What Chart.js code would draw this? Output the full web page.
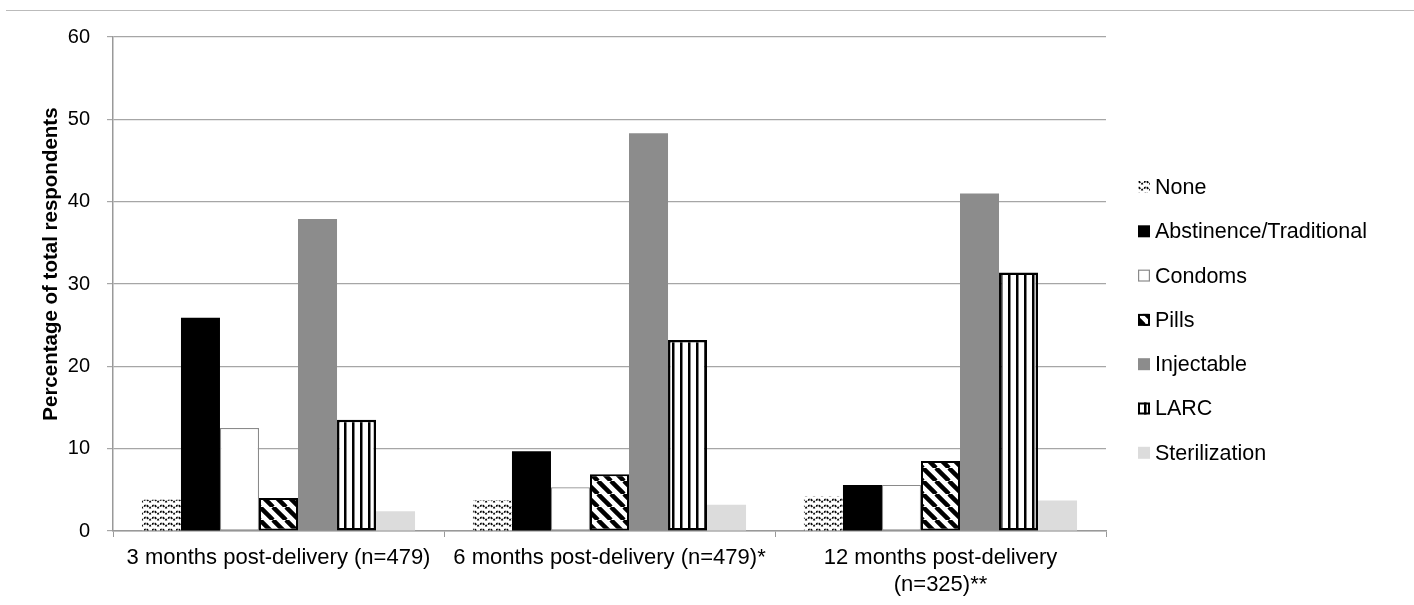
<!DOCTYPE html>
<html lang="en">
<head>
  <meta charset="UTF-8" />
  <title>Contraceptive method by time post-delivery</title>
  <script src="https://cdn.jsdelivr.net/npm/chart.js"></script>
  <style>
    html, body { margin: 0; padding: 0; background: #fff; }
    .frame {
      position: relative;
      width: 1414px;
      height: 605px;
    }
    .top-line {
      position: absolute;
      top: 10px; left: 6px; right: 0;
      border-top: 1px solid #bbb;
    }
    canvas { position: absolute; top: 0; left: 0; }
  </style>
</head>
<body>
  <div class="frame">
    <div class="top-line"></div>
    <canvas id="chart" width="1414" height="605"></canvas>
  </div>

  <script>
    const categories = [
      "3 months post-delivery (n=479)",
      "6 months post-delivery (n=479)*",
      ["12 months post-delivery", "(n=325)**"]
    ];
    const none = [3.8, 3.7, 4.2];
    const abstinence = [25.9, 9.7, 5.6];
    const condoms = [12.5, 5.3, 5.6];
    const pills = [4.0, 6.9, 8.5];
    const injectable = [37.9, 48.3, 41.0];
    const larc = [13.5, 23.2, 31.4];
    const sterilization = [2.4, 3.2, 3.7];
    const yTicks = [0, 10, 20, 30, 40, 50, 60];

    const FONT = "'Liberation Sans', Arial, sans-serif";

    function makePattern(w, h, draw) {
      const c = document.createElement("canvas");
      c.width = w; c.height = h;
      const ctx = c.getContext("2d");
      ctx.fillStyle = "#fff";
      ctx.fillRect(0, 0, w, h);
      draw(ctx, w, h);
      return ctx.createPattern(c, "repeat");
    }

    // dotted wavy lines
    const wavePattern = makePattern(8, 6, (ctx) => {
      ctx.strokeStyle = "#000";
      ctx.lineWidth = 1.8;
      ctx.setLineDash([2, 1]);
      ctx.beginPath();
      ctx.moveTo(0, 2.5);
      ctx.quadraticCurveTo(2, 0.2, 4, 2.5);
      ctx.quadraticCurveTo(6, 4.8, 8, 2.5);
      ctx.stroke();
    });

    // wide "\" stripes
    const diagPattern = makePattern(13, 13, (ctx, w, h) => {
      ctx.strokeStyle = "#000";
      ctx.lineWidth = 4.5;
      for (let k = -1; k <= 1; k++) {
        ctx.beginPath();
        ctx.moveTo(k * w, 0);
        ctx.lineTo(k * w + w, h);
        ctx.stroke();
      }
    });

    // vertical stripes
    const vertPattern = makePattern(8, 4, (ctx) => {
      ctx.fillStyle = "#000";
      ctx.fillRect(0, 0, 2.5, 4);
    });

    const yTickSet = new Set(yTicks);

    function ds(label, data, bg, border, bw) {
      return {
        label: label,
        data: data,
        backgroundColor: bg,
        borderColor: border || bg,
        borderWidth: bw || 0,
        borderSkipped: false
      };
    }

    // legend drawn by hand so the spacing matches the original
    const sideLegend = {
      id: "sideLegend",
      afterDraw(chart) {
        const ctx = chart.ctx;
        const x = 1138, y0 = 187, step = 44.3, box = 12;
        ctx.save();
        ctx.font = "21.5px " + FONT;
        ctx.textBaseline = "middle";
        chart.data.datasets.forEach((d, i) => {
          const y = y0 + i * step;
          ctx.fillStyle = d.backgroundColor;
          ctx.fillRect(x, y - box / 2, box, box);
          if (d.borderWidth) {
            ctx.lineWidth = Math.min(d.borderWidth, 2);
            ctx.strokeStyle = d.borderColor;
            const o = ctx.lineWidth / 2;
            ctx.strokeRect(x + o, y - box / 2 + o, box - 2 * o, box - 2 * o);
          }
          ctx.fillStyle = "#000";
          ctx.fillText(d.label, x + box + 5, y + 1);
        });
        ctx.restore();
      }
    };

    new Chart(document.getElementById("chart"), {
      type: "bar",
      data: {
        labels: categories,
        datasets: [
          ds("None", none, wavePattern),
          ds("Abstinence/Traditional", abstinence, "#000000"),
          ds("Condoms", condoms, "#ffffff", "#8a8a8a", 1.2),
          ds("Pills", pills, diagPattern, "#000000", 2),
          ds("Injectable", injectable, "#8c8c8c"),
          ds("LARC", larc, vertPattern, "#000000", 2.5),
          ds("Sterilization", sterilization, "#dcdcdc")
        ]
      },
      plugins: [sideLegend],
      options: {
        responsive: false,
        animation: false,
        layout: { padding: { top: 37, right: 308, bottom: 0, left: 0 } },
        datasets: {
          bar: { barPercentage: 1, categoryPercentage: 0.825 }
        },
        plugins: {
          tooltip: { enabled: false },
          legend: { display: false }
        },
        scales: {
          x: {
            offset: true,
            grid: {
              display: true,
              drawOnChartArea: false,
              drawTicks: true,
              tickLength: 6,
              color: "#999",
              offset: true
            },
            border: { color: "#999", width: 1.5 },
            ticks: {
              font: { family: FONT, size: 22 },
              color: "#000",
              padding: 8,
              maxRotation: 0,
              autoSkip: false
            },
            afterFit: (scale) => { scale.height = 74; }
          },
          y: {
            min: 0,
            max: 60,
            afterBuildTicks: (scale) => {
              scale.ticks = scale.ticks.filter(t => yTickSet.has(t.value));
            },
            ticks: {
              stepSize: 10,
              font: { family: FONT, size: 20 },
              color: "#000",
              padding: 17
            },
            grid: { color: "#a6a6a6", lineWidth: 1.2, tickLength: 6 },
            border: { color: "#999", width: 1.5 },
            title: {
              display: true,
              // leading spaces push the title up, as in the original
              text: "       Percentage of total respondents",
              font: { family: FONT, size: 20.5, weight: "bold" },
              color: "#000",
              padding: { top: 39, bottom: 0 }
            },
            afterFit: (scale) => { scale.width = 113; }
          }
        }
      }
    });
  </script>
</body>
</html>
